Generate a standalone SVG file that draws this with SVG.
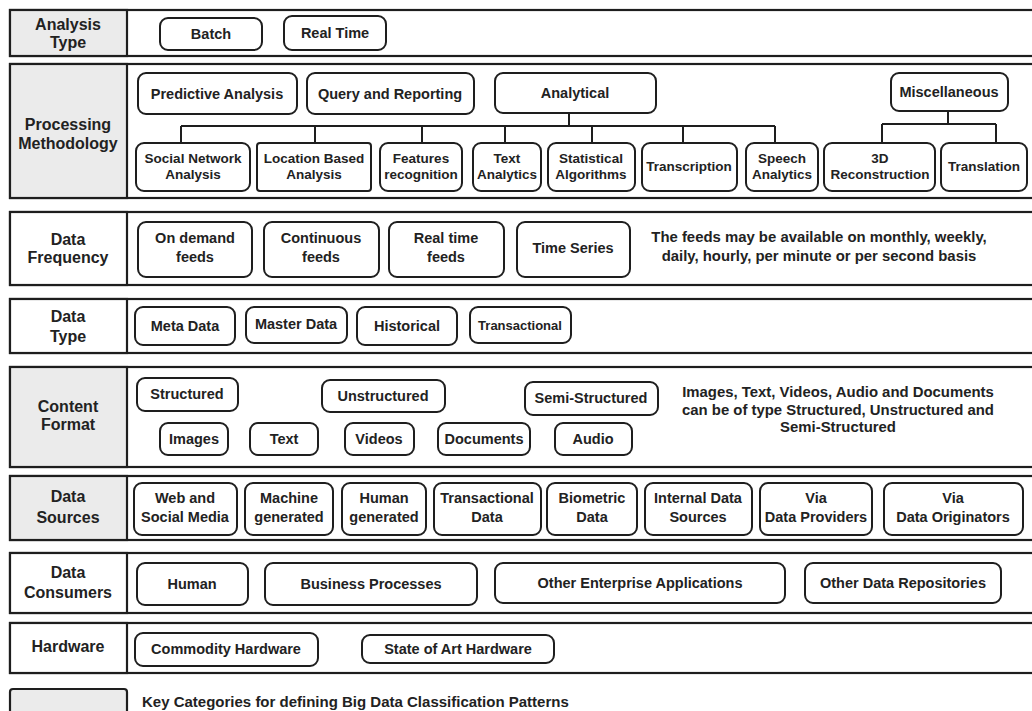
<svg xmlns="http://www.w3.org/2000/svg" width="1032" height="711" viewBox="0 0 1032 711">
<style>
.row{fill:#fff;stroke:#1e1e1e;stroke-width:2.2}
.lg{fill:#ebebeb;stroke:#1e1e1e;stroke-width:2.2}
.lw{fill:#fff;stroke:#1e1e1e;stroke-width:2.2}
.n{fill:#fff;stroke:#1e1e1e;stroke-width:2;rx:8}
text{font-family:"Liberation Sans",Arial,sans-serif;font-weight:bold;fill:#222;text-anchor:middle}
.lab{font-size:16px}
.t{font-size:14.5px}
.s{font-size:13.5px}
.note{font-size:14.9px}
.c{fill:none;stroke:#1e1e1e;stroke-width:2}
</style>

<!-- Rows -->
<g id="row-analysis-type">
<rect class="row" x="10" y="10" width="1040" height="46"/>
<rect class="lg" x="10" y="10" width="117" height="46"/>
<text class="lab" x="68" y="30">Analysis</text>
<text class="lab" x="68" y="48">Type</text>
</g>
<g id="row-processing">
<rect class="row" x="10" y="64" width="1040" height="134"/>
<rect class="lg" x="10" y="64" width="117" height="134"/>
<text class="lab" x="68" y="130">Processing</text>
<text class="lab" x="68" y="149">Methodology</text>
</g>
<g id="row-frequency">
<rect class="row" x="10" y="212" width="1040" height="73"/>
<rect class="lw" x="10" y="212" width="117" height="73"/>
<text class="lab" x="68" y="245">Data</text>
<text class="lab" x="68" y="263">Frequency</text>
</g>
<g id="row-datatype">
<rect class="row" x="10" y="299" width="1040" height="54"/>
<rect class="lw" x="10" y="299" width="117" height="54"/>
<text class="lab" x="68" y="322">Data</text>
<text class="lab" x="68" y="342">Type</text>
</g>
<g id="row-content">
<rect class="row" x="10" y="367" width="1040" height="100"/>
<rect class="lg" x="10" y="367" width="117" height="100"/>
<text class="lab" x="68" y="412">Content</text>
<text class="lab" x="68" y="430">Format</text>
</g>
<g id="row-sources">
<rect class="row" x="10" y="476" width="1040" height="64"/>
<rect class="lg" x="10" y="476" width="117" height="64"/>
<text class="lab" x="68" y="502">Data</text>
<text class="lab" x="68" y="523">Sources</text>
</g>
<g id="row-consumers">
<rect class="row" x="10" y="553" width="1040" height="60"/>
<rect class="lw" x="10" y="553" width="117" height="60"/>
<text class="lab" x="68" y="578">Data</text>
<text class="lab" x="68" y="598">Consumers</text>
</g>
<g id="row-hardware">
<rect class="row" x="10" y="623" width="1040" height="50"/>
<rect class="lw" x="10" y="623" width="117" height="50"/>
<text class="lab" x="68" y="652">Hardware</text>
</g>
<g id="legend">
<rect class="lg" x="10" y="689" width="117" height="30" rx="3"/>
<text class="t" x="142" y="707" style="text-anchor:start;font-size:15px">Key Categories for defining Big Data Classification Patterns</text>
</g>

<!-- Connectors -->
<g id="connectors">
<path class="c" d="M569 113V126M181 126H775M181 126V143M315 126V143M422 126V143M505 126V143M592 126V143M683 126V143M775 126V143"/>
<path class="c" d="M948 111V124M882 124H996M882 124V143M996 124V143"/>
</g>

<!-- Analysis Type -->
<g id="n-batch"><rect class="n" x="160" y="18" width="102" height="32"/><text class="t" x="211" y="39">Batch</text></g>
<g id="n-realtime"><rect class="n" x="284" y="16" width="102" height="34"/><text class="t" x="335" y="38">Real Time</text></g>

<!-- Processing -->
<g id="n-predictive"><rect class="n" x="138" y="73" width="159" height="41"/><text class="t" x="217" y="99">Predictive Analysis</text></g>
<g id="n-query"><rect class="n" x="307" y="73" width="167" height="41"/><text class="t" x="390" y="99">Query and Reporting</text></g>
<g id="n-analytical"><rect class="n" x="495" y="73" width="161" height="40"/><text class="t" x="575" y="98">Analytical</text></g>
<g id="n-misc"><rect class="n" x="891" y="73" width="117" height="38"/><text class="t" x="949" y="97">Miscellaneous</text></g>
<g id="n-social"><rect class="n" x="136" y="143" width="114" height="48"/><text class="s" x="193" y="163">Social Network</text><text class="s" x="193" y="179">Analysis</text></g>
<g id="n-location"><rect class="n" x="257" y="143" width="114" height="48" style="rx:3px"/><text class="s" x="314" y="163">Location Based</text><text class="s" x="314" y="179">Analysis</text></g>
<g id="n-features"><rect class="n" x="380" y="143" width="82" height="48"/><text class="s" x="421" y="163">Features</text><text class="s" x="421" y="179">recognition</text></g>
<g id="n-text"><rect class="n" x="473" y="143" width="68" height="48"/><text class="s" x="507" y="163">Text</text><text class="s" x="507" y="179">Analytics</text></g>
<g id="n-statistical"><rect class="n" x="548" y="143" width="87" height="48"/><text class="s" x="591" y="163">Statistical</text><text class="s" x="591" y="179">Algorithms</text></g>
<g id="n-transcription"><rect class="n" x="642" y="143" width="95" height="48"/><text class="s" x="689" y="171">Transcription</text></g>
<g id="n-speech"><rect class="n" x="746" y="143" width="72" height="48"/><text class="s" x="782" y="163">Speech</text><text class="s" x="782" y="179">Analytics</text></g>
<g id="n-3d"><rect class="n" x="824" y="143" width="111" height="48"/><text class="s" x="880" y="163">3D</text><text class="s" x="880" y="179">Reconstruction</text></g>
<g id="n-translation"><rect class="n" x="941" y="143" width="86" height="48"/><text class="s" x="984" y="171">Translation</text></g>

<!-- Data Frequency -->
<g id="n-ondemand"><rect class="n" x="138" y="222" width="114" height="55"/><text class="t" x="195" y="243">On demand</text><text class="t" x="195" y="262">feeds</text></g>
<g id="n-continuous"><rect class="n" x="264" y="222" width="115" height="55"/><text class="t" x="321" y="243">Continuous</text><text class="t" x="321" y="262">feeds</text></g>
<g id="n-realtimefeeds"><rect class="n" x="389" y="222" width="115" height="55"/><text class="t" x="446" y="243">Real time</text><text class="t" x="446" y="262">feeds</text></g>
<g id="n-timeseries"><rect class="n" x="517" y="222" width="113" height="55"/><text class="t" x="573" y="253">Time Series</text></g>
<g id="note-freq"><text class="note" x="819" y="242">The feeds may be available on monthly, weekly,</text><text class="note" x="819" y="261">daily, hourly, per minute or per second basis</text></g>

<!-- Data Type -->
<g id="n-meta"><rect class="n" x="135" y="307" width="100" height="38"/><text class="t" x="185" y="331">Meta Data</text></g>
<g id="n-master"><rect class="n" x="246" y="307" width="101" height="36"/><text class="t" x="296" y="329">Master Data</text></g>
<g id="n-historical"><rect class="n" x="357" y="307" width="100" height="38"/><text class="t" x="407" y="331">Historical</text></g>
<g id="n-transactional"><rect class="n" x="470" y="307" width="101" height="36"/><text class="t" x="520" y="330" style="font-size:13px">Transactional</text></g>

<!-- Content Format -->
<g id="n-structured"><rect class="n" x="137" y="378" width="101" height="33"/><text class="t" x="187" y="399">Structured</text></g>
<g id="n-unstructured"><rect class="n" x="322" y="380" width="123" height="32"/><text class="t" x="383" y="401">Unstructured</text></g>
<g id="n-semistructured"><rect class="n" x="525" y="382" width="133" height="33"/><text class="t" x="591" y="403">Semi-Structured</text></g>
<g id="n-images"><rect class="n" x="160" y="423" width="68" height="32"/><text class="t" x="194" y="444">Images</text></g>
<g id="n-textc"><rect class="n" x="250" y="423" width="68" height="32"/><text class="t" x="284" y="444">Text</text></g>
<g id="n-videos"><rect class="n" x="345" y="423" width="69" height="32"/><text class="t" x="379" y="444">Videos</text></g>
<g id="n-documents"><rect class="n" x="438" y="423" width="92" height="32"/><text class="t" x="484" y="444">Documents</text></g>
<g id="n-audio"><rect class="n" x="555" y="423" width="77" height="32"/><text class="t" x="593" y="444">Audio</text></g>
<g id="note-content"><text class="note" x="838" y="397">Images, Text, Videos, Audio and Documents</text><text class="note" x="838" y="415">can be of type Structured, Unstructured and</text><text class="note" x="838" y="432">Semi-Structured</text></g>

<!-- Data Sources -->
<g id="n-web"><rect class="n" x="134" y="483" width="103" height="52"/><text class="t" x="185" y="503">Web and</text><text class="t" x="185" y="522">Social Media</text></g>
<g id="n-machine"><rect class="n" x="245" y="483" width="88" height="52"/><text class="t" x="289" y="503">Machine</text><text class="t" x="289" y="522">generated</text></g>
<g id="n-humang"><rect class="n" x="342" y="483" width="84" height="52"/><text class="t" x="384" y="503">Human</text><text class="t" x="384" y="522">generated</text></g>
<g id="n-transdata"><rect class="n" x="434" y="483" width="107" height="52"/><text class="t" x="487" y="503">Transactional</text><text class="t" x="487" y="522">Data</text></g>
<g id="n-biometric"><rect class="n" x="547" y="483" width="90" height="52"/><text class="t" x="592" y="503">Biometric</text><text class="t" x="592" y="522">Data</text></g>
<g id="n-internal"><rect class="n" x="645" y="483" width="107" height="52"/><text class="t" x="698" y="503">Internal Data</text><text class="t" x="698" y="522">Sources</text></g>
<g id="n-providers"><rect class="n" x="760" y="483" width="112" height="52"/><text class="t" x="816" y="503">Via</text><text class="t" x="816" y="522">Data Providers</text></g>
<g id="n-originators"><rect class="n" x="884" y="483" width="139" height="52"/><text class="t" x="953" y="503">Via</text><text class="t" x="953" y="522">Data Originators</text></g>

<!-- Data Consumers -->
<g id="n-human"><rect class="n" x="137" y="563" width="111" height="42"/><text class="t" x="192" y="589">Human</text></g>
<g id="n-business"><rect class="n" x="265" y="563" width="212" height="42"/><text class="t" x="371" y="589">Business Processes</text></g>
<g id="n-enterprise"><rect class="n" x="495" y="563" width="290" height="40"/><text class="t" x="640" y="588">Other Enterprise Applications</text></g>
<g id="n-repos"><rect class="n" x="805" y="563" width="196" height="40"/><text class="t" x="903" y="588">Other Data Repositories</text></g>

<!-- Hardware -->
<g id="n-commodity"><rect class="n" x="135" y="633" width="183" height="33"/><text class="t" x="226" y="654">Commodity Hardware</text></g>
<g id="n-stateart"><rect class="n" x="362" y="635" width="192" height="28"/><text class="t" x="458" y="654">State of Art Hardware</text></g>
</svg>
